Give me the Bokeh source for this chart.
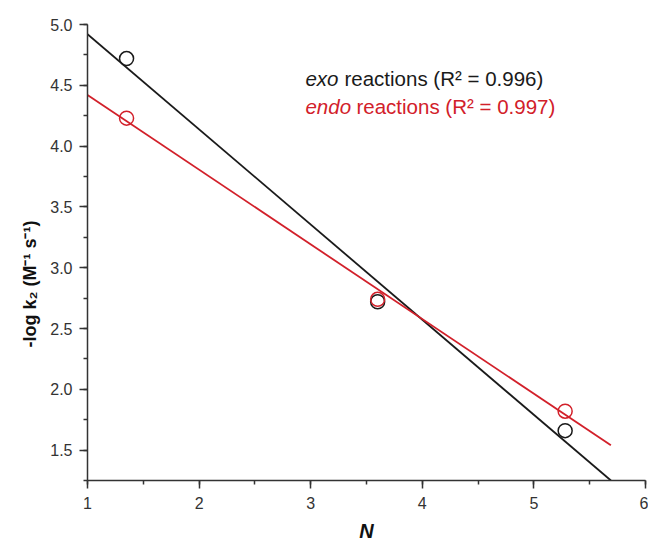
from bokeh.plotting import figure
from bokeh.models import Range1d, SingleIntervalTicker, Label, Title, PrintfTickFormatter
from bokeh.embed import file_html
from bokeh.resources import INLINE

# Data
N_exo = [1.35, 3.60, 5.28]
logk_exo = [4.72, 2.72, 1.66]
N_endo = [1.35, 3.60, 5.28]
logk_endo = [4.23, 2.74, 1.82]

# Fitted lines (as drawn in the reference)
fit_exo_N = [1.0, 5.69]
fit_exo_y = [4.92, 1.25]
fit_endo_N = [1.0, 5.69]
fit_endo_y = [4.42, 1.54]

BLACK = "#1a1a1a"
RED = "#d2202a"
FONT = "Liberation Sans"

p = figure(width=648, height=546, output_backend="svg", toolbar_location=None,
           x_range=Range1d(1, 6), y_range=Range1d(1.25, 5.0),
           min_border_left=87, min_border_right=3, min_border_top=24,
           min_border_bottom=66)
p.outline_line_color = None
p.grid.visible = False
p.background_fill_color = "white"
p.border_fill_color = "white"

p.line(fit_exo_N, fit_exo_y, line_color=BLACK, line_width=1.8)
p.line(fit_endo_N, fit_endo_y, line_color=RED, line_width=1.8)
p.scatter(N_exo, logk_exo, marker="circle", size=14, fill_color=None,
          line_color=BLACK, line_width=1.5)
p.scatter(N_endo, logk_endo, marker="circle", size=14, fill_color=None,
          line_color=RED, line_width=1.5)

p.xaxis.ticker = SingleIntervalTicker(interval=1, num_minor_ticks=2)
p.yaxis.ticker = SingleIntervalTicker(interval=0.5, num_minor_ticks=2)
p.yaxis.formatter = PrintfTickFormatter(format="%.1f")

for ax in (p.xaxis[0], p.yaxis[0]):
    ax.axis_line_color = "#333333"
    ax.axis_line_width = 1.5
    ax.major_tick_line_color = "#333333"
    ax.minor_tick_line_color = "#333333"
    ax.major_tick_line_width = 1.5
    ax.minor_tick_line_width = 1.5
    ax.major_tick_in = 0
    ax.major_tick_out = 8
    ax.minor_tick_in = 0
    ax.minor_tick_out = 4
    ax.major_label_text_font = FONT
    ax.major_label_text_font_size = "16px"
    ax.major_label_text_color = "#333333"
    ax.axis_label_text_font = FONT
    ax.axis_label_text_color = "#111111"

p.xaxis.axis_label = "N"
p.xaxis.axis_label_text_font_size = "20px"
p.xaxis.axis_label_text_font_style = "bold italic"
p.xaxis.major_label_standoff = 8
p.xaxis.axis_label_standoff = 8
p.yaxis.major_label_standoff = 7

# y-axis title, placed as in the reference (below the frame's centre)
p.add_layout(Title(text="-log k\u2082 (M\u207b\u00b9 s\u207b\u00b9)", align="left",
                   offset=133, text_font=FONT, text_font_size="18px",
                   text_font_style="bold", text_color="#111111",
                   standoff=15), "left")

lx = 2.953
for (ital, rest, y, col, off) in [("exo", "reactions (R\u00b2 = 0.996)", 4.556, BLACK, 39),
                                  ("endo", "reactions (R\u00b2 = 0.997)", 4.326, RED, 51)]:
    p.add_layout(Label(x=lx, y=y, text=ital, text_font=FONT, text_font_size="20.5px",
                       text_font_style="italic", text_color=col,
                       text_baseline="alphabetic"))
    p.add_layout(Label(x=lx, y=y, x_offset=off, text=rest, text_font=FONT,
                       text_font_size="20.5px", text_color=col,
                       text_baseline="alphabetic"))

open("out.html", "w").write(file_html(p, INLINE))
